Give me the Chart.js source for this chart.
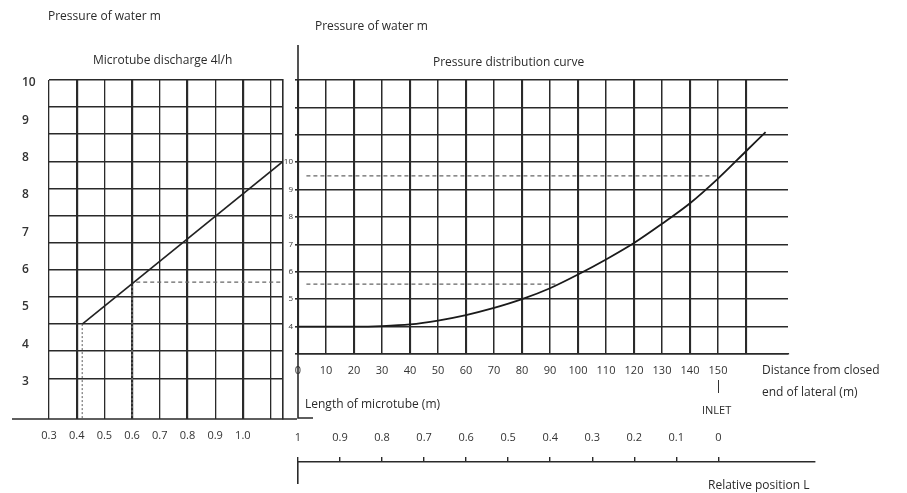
<!DOCTYPE html>
<html>
<head>
<meta charset="utf-8">
<script src="https://cdn.jsdelivr.net/npm/chart.js@4"></script>
<style>
  body { margin: 0; background: #fff; }
  #page { position: relative; width: 907px; height: 493px; overflow: hidden; font-family: "Open Sans", "Noto Sans", sans-serif; color: #2b2b2b; }
  canvas { position: absolute; }
  .lbl { position: absolute; font-size: 12px; white-space: nowrap; line-height: 14px; }
</style>
</head>
<body>
<div id="page">
  <canvas id="leftChart" width="300" height="470" style="left:0;top:0"></canvas>
  <canvas id="rightChart" width="637" height="420" style="left:270px;top:0"></canvas>
  <canvas id="relChart" width="560" height="78" style="left:270px;top:415px"></canvas>

  <div class="lbl" style="left:48px;top:9px">Pressure of water m</div>
  <div class="lbl" style="left:93px;top:53px">Microtube discharge 4l/h</div>
  <div class="lbl" style="left:315px;top:19px">Pressure of water m</div>
  <div class="lbl" style="left:433px;top:55px">Pressure distribution curve</div>
  <div class="lbl" style="left:305px;top:397px">Length of microtube (m)</div>
  <div class="lbl" style="left:762px;top:363px">Distance from closed</div>
  <div class="lbl" style="left:762px;top:385px">end of lateral (m)</div>
  <div style="position:absolute;left:718px;top:380px;width:1px;height:13px;background:#333"></div>
  <div class="lbl" style="left:702px;top:403px;font-size:11px">INLET</div>
  <div class="lbl" style="left:708px;top:478px">Relative position L</div>
</div>

<script>
// left panel: microtube discharge
const leftYLabels = ['10', '9', '8', '8', '7', '6', '5', '4', '3'];
const leftXTicks = [0.3, 0.4, 0.5, 0.6, 0.7, 0.8, 0.9, 1.0, 1.1];
const leftXLabels = ['0.3', '0.4', '0.5', '0.6', '0.7', '0.8', '0.9', '1.0', ''];
const dischargeX = [0.42, 1.145];
const dischargeP = [4.0, 10.0];

// right panel: pressure distribution along lateral
const distTicks = [0, 10, 20, 30, 40, 50, 60, 70, 80, 90, 100, 110, 120, 130, 140, 150, 160];
const distance = [0, 10, 20, 30, 40, 50, 60, 70, 80, 90, 100, 110, 120, 130, 140, 150, 160, 167];
const pressure = [4.0, 4.0, 4.0, 4.02, 4.08, 4.22, 4.42, 4.68, 5.0, 5.4, 5.9, 6.45, 7.05, 7.75, 8.5, 9.4, 10.4, 11.1];
const pressureTicks = [3, 4, 5, 6, 7, 8, 9, 10, 11, 12, 13];

// reading lines
const readP = 5.55;
const readQ = 0.6;
const inletP = 9.5;

// relative position scale
const relTicks = [1, 0.9, 0.8, 0.7, 0.6, 0.5, 0.4, 0.3, 0.2, 0.1, 0];
const relLabels = ['1', '0.9', '0.8', '0.7', '0.6', '0.5', '0.4', '0.3', '0.2', '0.1', '0'];

const ink = '#2a2a2a';
const font = { family: '"Open Sans", "Noto Sans", sans-serif', size: 11 };

function xy(xs, ys) { return xs.map((x, i) => ({ x: x, y: ys[i] })); }

const leftBase = {
  id: 'leftBase',
  afterDraw(chart) {
    const { ctx, chartArea: a } = chart;
    ctx.save();
    ctx.strokeStyle = ink;
    ctx.lineWidth = 1.6;
    ctx.beginPath();
    ctx.moveTo(12, a.bottom);
    ctx.lineTo(a.right + 14, a.bottom);
    ctx.stroke();
    ctx.restore();
  }
};

new Chart(document.getElementById('leftChart'), {
  type: 'line',
  data: {
    datasets: [
      { data: xy(dischargeX, dischargeP), yAxisID: 'y', borderColor: '#222', borderWidth: 1.6 },
      { data: xy([0.615, 1.145], [readP, readP]), yAxisID: 'y', borderColor: '#666', borderWidth: 1.2, borderDash: [4, 3] },
      { data: xy([0.42, 0.42], [4.0, 0.5]), yAxisID: 'y', borderColor: '#777', borderWidth: 1.2, borderDash: [2, 2] },
      { data: xy([readQ, readQ], [5.4, 0.5]), yAxisID: 'y', borderColor: '#777', borderWidth: 1.4, borderDash: [2, 2] }
    ]
  },
  options: {
    responsive: false,
    animation: false,
    devicePixelRatio: 1,
    layout: { padding: { top: 80, right: 17, bottom: 21, left: 22 } },
    elements: { point: { radius: 0 }, line: { tension: 0 } },
    plugins: { legend: { display: false }, tooltip: { enabled: false } },
    scales: {
      x: {
        type: 'linear', min: 0.3, max: 1.145,
        afterBuildTicks: s => { s.ticks = leftXTicks.map(v => ({ value: v })); },
        afterFit: s => { s.height = 30; },
        border: { display: false },
        grid: { color: ink, lineWidth: c => (c.index % 2 ? 2.2 : 1.3), drawTicks: false },
        ticks: { padding: 10, autoSkip: false, maxRotation: 0, color: '#333', font: font,
                 callback: (v, i) => leftXLabels[i] }
      },
      yLab: {
        type: 'linear', position: 'left', min: -1, max: 8.08,
        afterBuildTicks: s => { s.ticks = leftYLabels.map((t, i) => ({ value: 8 - i })); },
        afterFit: s => { s.width = 27; },
        border: { display: false },
        grid: { display: false },
        ticks: { crossAlign: 'far', autoSkip: false, color: '#333', font: { family: font.family, size: 12, weight: '600' },
                 callback: v => leftYLabels[8 - v] }
      },
      y: {
        type: 'linear', position: 'right', min: 0.5, max: 13,
        afterBuildTicks: s => { s.ticks = pressureTicks.filter(v => v >= 3).concat([2]).map(v => ({ value: v })); },
        afterFit: s => { s.width = 0; },
        border: { display: true, color: ink, width: 1.6 },
        grid: { color: ink, lineWidth: 1.6, drawTicks: false },
        ticks: { display: false }
      }
    }
  },
  plugins: [leftBase]
});

const axisExt = {
  id: 'axisExt',
  afterDraw(chart) {
    const { ctx, chartArea: a } = chart;
    ctx.save();
    ctx.strokeStyle = ink;
    ctx.lineWidth = 1.6;
    ctx.beginPath();
    ctx.moveTo(a.left, 45);
    ctx.lineTo(a.left, 418);
    ctx.lineTo(a.left + 15, 418);
    ctx.stroke();
    ctx.restore();
  }
};

new Chart(document.getElementById('rightChart'), {
  type: 'line',
  data: {
    datasets: [
      { data: xy(distance, pressure), borderColor: '#1a1a1a', borderWidth: 1.8, cubicInterpolationMode: 'monotone' },
      { data: xy([3, 93], [readP, readP]), borderColor: '#666', borderWidth: 1.2, borderDash: [4, 3] },
      { data: xy([3, 150], [inletP, inletP]), borderColor: '#666', borderWidth: 1.2, borderDash: [4, 3] }
    ]
  },
  options: {
    responsive: false,
    animation: false,
    devicePixelRatio: 1,
    layout: { padding: { top: 80, right: 119, bottom: 36, left: 0 } },
    elements: { point: { radius: 0 } },
    plugins: { legend: { display: false }, tooltip: { enabled: false } },
    scales: {
      x: {
        type: 'linear', min: 0, max: 175,
        afterBuildTicks: s => { s.ticks = distTicks.map(v => ({ value: v })); },
        afterFit: s => { s.height = 30; },
        border: { display: true, color: ink, width: 1.6 },
        grid: { color: ink, lineWidth: c => (c.index % 2 ? 1.5 : 2.1), drawTicks: false },
        ticks: { padding: 10, autoSkip: false, maxRotation: 0, color: '#333', font: font,
                 callback: v => (v <= 150 ? String(v) : '') }
      },
      y: {
        type: 'linear', position: 'left', min: 3, max: 13,
        afterBuildTicks: s => { s.ticks = pressureTicks.map(v => ({ value: v })); },
        afterFit: s => { s.width = 28; },
        border: { display: false },
        grid: { color: ink, lineWidth: 1.6, drawTicks: true, tickLength: 3 },
        ticks: { padding: 2, autoSkip: false, color: '#333', font: { family: font.family, size: 8 },
                 callback: v => (v >= 4 && v <= 10 ? String(v) : '') }
      }
    }
  },
  plugins: [axisExt]
});

new Chart(document.getElementById('relChart'), {
  type: 'line',
  data: { datasets: [] },
  options: {
    responsive: false,
    animation: false,
    devicePixelRatio: 1,
    layout: { padding: { top: 17, right: 15, bottom: 10, left: 0 } },
    plugins: { legend: { display: false }, tooltip: { enabled: false } },
    scales: {
      x: {
        type: 'linear', position: 'top', min: -0.23, max: 1, reverse: true,
        afterBuildTicks: s => { s.ticks = relTicks.map(v => ({ value: v })); },
        afterFit: s => { s.height = 30; },
        border: { display: true, color: ink, width: 1.6 },
        grid: { drawOnChartArea: false, drawTicks: true, tickLength: 5, color: ink, lineWidth: 1.4 },
        ticks: { padding: 13, autoSkip: false, maxRotation: 0, color: '#333', font: font,
                 callback: (v, i) => relLabels[i] }
      },
      y: {
        type: 'linear', position: 'left', min: 0, max: 1,
        afterFit: s => { s.width = 28; },
        border: { display: true, color: ink, width: 1.6 },
        grid: { display: false },
        ticks: { display: false }
      }
    }
  }
});
</script>
</body>
</html>
